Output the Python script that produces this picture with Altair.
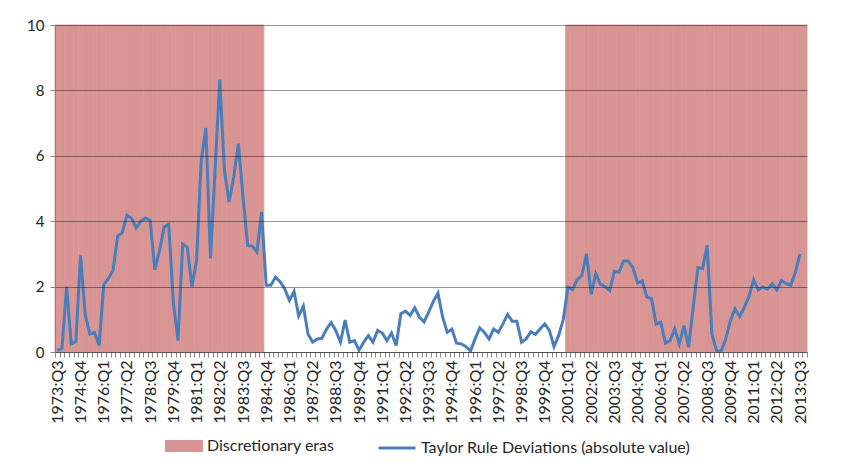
import altair as alt
import pandas as pd

# ---- categories: quarters 1973:Q3 .. 2013:Q4 ----
first_year, first_q, n_quarters = 1973, 3, 162
quarters = []
_y, _q = first_year, first_q
for _ in range(n_quarters):
    quarters.append(f"{_y}:Q{_q}")
    _q += 1
    if _q > 4:
        _q, _y = 1, _y + 1

# ---- Taylor rule deviations (absolute value) ----
dev_1973_1984 = [0.05, 0.1, 2.0, 0.25, 0.32, 2.95, 1.15, 0.55, 0.6, 0.2,
                 2.05, 2.25, 2.5, 3.55, 3.65, 4.18, 4.08, 3.8, 4.0, 4.1,
                 4.02, 2.52, 3.1, 3.82, 3.9, 1.5, 0.35, 3.3, 3.2, 2.0,
                 2.8, 5.85, 6.85, 2.86, 5.6, 8.33, 5.55, 4.59, 5.35, 6.37,
                 4.74, 3.26, 3.24, 3.06, 4.28]
dev_1984_2000 = [2.04, 2.04, 2.29, 2.15, 1.93,
                 1.58, 1.85, 1.1, 1.4, 0.55, 0.3, 0.4, 0.42, 0.7, 0.9,
                 0.65, 0.3, 0.98, 0.3, 0.35, 0.05, 0.3, 0.5, 0.3, 0.66,
                 0.58, 0.35, 0.58, 0.2, 1.17, 1.25, 1.12, 1.35, 1.07, 0.92,
                 1.22, 1.55, 1.8, 1.07, 0.6, 0.7, 0.27, 0.25, 0.17, 0.03,
                 0.4, 0.74, 0.6, 0.4, 0.7, 0.6, 0.86, 1.15, 0.94, 0.94,
                 0.3, 0.4, 0.62, 0.54, 0.7, 0.86, 0.66, 0.17, 0.5, 1.0]
dev_2001_2013 = [1.98, 1.92, 2.21, 2.34, 3.0, 1.76, 2.39, 2.07, 2.0, 1.88,
                 2.47, 2.44, 2.78, 2.78, 2.58, 2.11, 2.17, 1.68, 1.63, 0.86,
                 0.91, 0.27, 0.35, 0.71, 0.25, 0.81, 0.15, 1.4, 2.58, 2.55,
                 3.26, 0.56, 0.05, 0.02, 0.4, 0.96, 1.32, 1.08, 1.37, 1.7,
                 2.21, 1.9, 1.98, 1.93, 2.09, 1.9, 2.19, 2.09, 2.04, 2.44,
                 3.0]
deviation = dev_1973_1984 + dev_1984_2000 + dev_2001_2013
deviation = deviation + [None] * (n_quarters - len(deviation))

# ---- discretionary eras ----
discretionary_eras = [("1973:Q3", "1984:Q3"), ("2001:Q1", "2013:Q4")]
era_height = 10
shade = [None] * n_quarters
for a, b in discretionary_eras:
    for i in range(quarters.index(a), quarters.index(b) + 1):
        shade[i] = era_height

y_ticks = [0, 2, 4, 6, 8, 10]
series_names = ["Discretionary eras", "Taylor Rule Deviations (absolute value)"]

df = pd.DataFrame({"quarter": quarters, "deviation": deviation, "shade": shade})

SHADE = "#d99594"
LINE = "#4a7ebb"
FONT = "Lato"
TEXT = "#262626"

x_scale = alt.Scale(domain=quarters, paddingInner=0, paddingOuter=0)
y_scale = alt.Scale(domain=[0, 10], nice=False, zero=True)

label_expr = ("(toNumber(substring(datum.value,0,4))*4 + toNumber(substring(datum.value,6,7)) - 7895) % 5 == 0"
              " ? datum.value : ''")

x_axis = alt.Axis(title=None, labelAngle=-90, labelAlign="right", labelBaseline="middle",
                  labelExpr=label_expr, labelOverlap=False, labelFlush=False,
                  tickBand="extent", tickSize=5, tickColor="#868686", domainColor="#868686",
                  labelPadding=3, labelFontSize=16, labelColor=TEXT, grid=False)
y_axis = alt.Axis(title=None, values=y_ticks, grid=True, gridColor="#000000", gridOpacity=0.4,
                  tickSize=5, tickColor="#868686", domainColor="#868686",
                  labelFontSize=15, labelPadding=6, labelColor=TEXT, zindex=1)

bars = alt.Chart(df).transform_filter("isValid(datum.shade)").transform_calculate(
    series=f"'{series_names[0]}'"
).mark_bar(stroke=SHADE, strokeWidth=0.8, opacity=1).encode(
    x=alt.X("quarter:O", scale=x_scale, axis=x_axis, sort=quarters),
    y=alt.Y("shade:Q", scale=y_scale, axis=y_axis),
    color=alt.Color(
        "series:N",
        scale=alt.Scale(domain=[series_names[0]], range=[SHADE]),
        legend=alt.Legend(title=None, orient="none", legendX=110, legendY=402, padding=0,
                          symbolType="M-1,-0.32H1V0.32H-1Z", symbolSize=1444,
                          symbolStrokeWidth=0, symbolOpacity=1, labelOffset=4, labelLimit=0,
                          labelFontSize=16, labelFont=FONT, labelColor=TEXT),
    ),
)

line = alt.Chart(df).transform_calculate(
    series=f"'{series_names[1]}'"
).mark_line(strokeWidth=3).encode(
    x=alt.X("quarter:O", scale=x_scale, axis=x_axis, sort=quarters, bandPosition=0.5),
    y=alt.Y("deviation:Q", scale=y_scale, axis=y_axis),
    color=alt.Color(
        "series:N",
        scale=alt.Scale(domain=[series_names[1]], range=[LINE]),
        legend=alt.Legend(title=None, orient="none", legendX=322, legendY=403, padding=0,
                          symbolType="stroke", symbolSize=1369, symbolStrokeWidth=3,
                          labelOffset=4, labelLimit=0,
                          labelFontSize=16, labelFont=FONT, labelColor=TEXT),
    ),
)

chart = alt.layer(bars, line).resolve_scale(color="independent").properties(
    width=752, height=327,
    autosize=alt.AutoSizeParams(type="none"),
    padding={"left": 47, "top": 17, "right": 31, "bottom": 109},
).configure(font=FONT).configure_axis(labelFont=FONT).configure_view(stroke=None)

chart.save("out.html", embed_options={"renderer": "svg", "actions": False})
